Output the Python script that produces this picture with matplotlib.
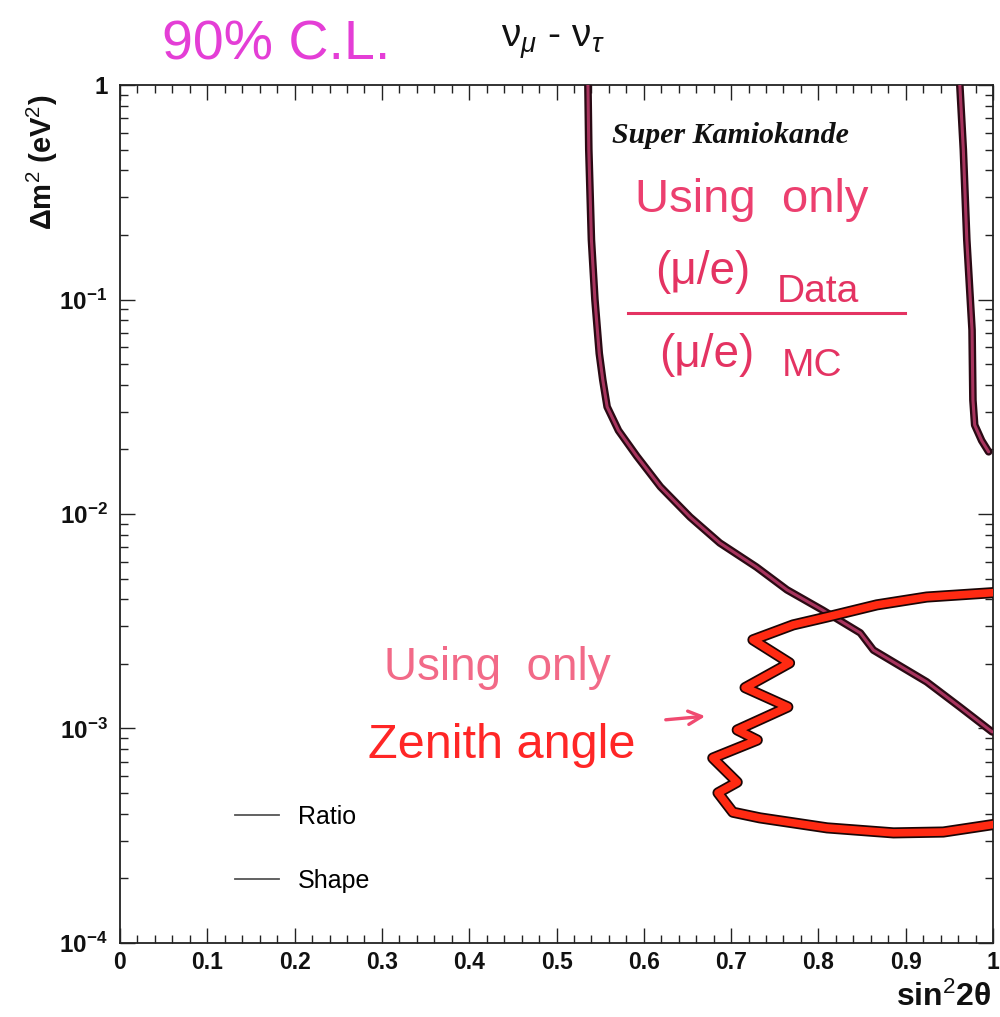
import matplotlib
matplotlib.use('Agg')
from matplotlib import pyplot as plt
from matplotlib.lines import Line2D
from matplotlib.ticker import MultipleLocator, LogLocator, FixedLocator, FixedFormatter, NullFormatter

# Ratio contour, left branch (sin^2 2theta, dm^2 in eV^2)
ratio_left_x = [0.536, 0.537, 0.540, 0.544, 0.549, 0.553, 0.558, 0.571, 0.592, 0.619,
                0.653, 0.687, 0.729, 0.764, 0.805, 0.848, 0.863, 0.886, 0.924, 0.962, 0.999]
ratio_left_y = [1.0, 0.5, 0.19, 0.10, 0.056, 0.0422, 0.0316, 0.0245, 0.0186, 0.0134,
                0.00968, 0.00733, 0.00566, 0.00443, 0.00356, 0.00279, 0.00232, 0.00204,
                0.00165, 0.00126, 0.000964]

# Ratio contour, right branch
ratio_right_x = [0.962, 0.966, 0.970, 0.976, 0.977, 0.979, 0.987, 0.995]
ratio_right_y = [1.0, 0.5, 0.19, 0.072, 0.034, 0.026, 0.022, 0.0195]

# Shape (zenith angle) contour
shape_x = [0.997, 0.924, 0.867, 0.810, 0.771, 0.725, 0.767, 0.716, 0.765, 0.707,
           0.730, 0.679, 0.707, 0.685, 0.702, 0.733, 0.810, 0.886, 0.943, 0.997]
shape_y = [0.00429, 0.00410, 0.00377, 0.00331, 0.00304, 0.00259, 0.00202, 0.00155,
           0.00126, 0.000984, 0.000883, 0.000728, 0.000562, 0.000501, 0.000407,
           0.000383, 0.000344, 0.000326, 0.000329, 0.000355]

x_ticks = [0, 0.1, 0.2, 0.3, 0.4, 0.5, 0.6, 0.7, 0.8, 0.9, 1.0]
x_tick_labels = ['0', '0.1', '0.2', '0.3', '0.4', '0.5', '0.6', '0.7', '0.8', '0.9', '1']
y_ticks = [1e-4, 1e-3, 1e-2, 1e-1, 1]
y_tick_labels = [r'$\mathbf{10^{-4}}$', r'$\mathbf{10^{-3}}$', r'$\mathbf{10^{-2}}$',
                 r'$\mathbf{10^{-1}}$', '1']
legend_labels = ['Ratio', 'Shape']

plt.rcParams['font.family'] = ['Liberation Sans', 'DejaVu Sans']
plt.rcParams['mathtext.fontset'] = 'custom'
plt.rcParams['mathtext.rm'] = 'Liberation Sans'
plt.rcParams['mathtext.it'] = 'Liberation Sans:italic'
plt.rcParams['mathtext.bf'] = 'Liberation Sans:bold'

fig = plt.figure(figsize=(10, 10.17), dpi=100)
ax = fig.add_axes([0.12, 0.0728, 0.873, 0.8436])
ax.set_yscale('log')
ax.set_xlim(0, 1)
ax.set_ylim(1e-4, 1)

# Ratio contour
for xs, ys in [(ratio_left_x, ratio_left_y), (ratio_right_x, ratio_right_y)]:
    ax.plot(xs, ys, color='#2a0a14', lw=5.5, solid_capstyle='round',
            solid_joinstyle='round', zorder=3)
    ax.plot(xs, ys, color='#a8345e', lw=2.2, solid_capstyle='round',
            solid_joinstyle='round', zorder=4)

# Shape contour
ax.plot(shape_x, shape_y, color='#1a0505', lw=8, solid_joinstyle='round', zorder=5)
ax.plot(shape_x, shape_y, color='#ff2a12', lw=5.5, solid_joinstyle='round', zorder=6)

# Axis ticks
ax.xaxis.set_major_locator(FixedLocator(x_ticks))
ax.xaxis.set_major_formatter(FixedFormatter(x_tick_labels))
ax.xaxis.set_minor_locator(MultipleLocator(0.02))
ax.yaxis.set_major_locator(FixedLocator(y_ticks))
ax.yaxis.set_major_formatter(FixedFormatter(y_tick_labels))
ax.yaxis.set_minor_locator(LogLocator(base=10, subs=range(2, 10)))
ax.yaxis.set_minor_formatter(NullFormatter())
ax.tick_params(which='both', direction='in', top=True, right=True, width=1, colors='#222222')
ax.tick_params(which='major', length=11, labelcolor='#111111')
ax.tick_params(axis='x', which='major', labelsize=16.5, pad=6)
ax.tick_params(axis='y', which='major', labelsize=17.5, pad=9)
ax.tick_params(which='minor', length=6)
for lbl in ax.get_xticklabels() + ax.get_yticklabels():
    lbl.set_fontweight('bold')
for sp in ax.spines.values():
    sp.set_linewidth(1.3)
    sp.set_color('#222222')

# Legend
handles = [Line2D([], [], color='#555555', lw=1.3) for _ in legend_labels]
ax.legend(handles, legend_labels, loc='upper left', bbox_to_anchor=(0.132, 0.161),
          frameon=False, fontsize=18, handlelength=1.75, handletextpad=0.75,
          labelspacing=1.6, borderpad=0, borderaxespad=0)

# Axis labels
fig.text(0.042, 0.84, 'Δm$^2$ (eV$^2$)', rotation=90, ha='center', va='center',
         fontsize=21, fontweight='bold', color='#111111')
fig.text(0.944, 0.019, 'sin$^2$2θ', ha='center', va='center', fontsize=23,
         fontweight='bold', color='#111111')

# Title and labels
fig.text(0.553, 0.958, 'ν$_{μ}$ - ν$_{τ}$', ha='center', va='center', fontsize=28,
         color='#111111')
fig.text(0.73, 0.867, 'Super Kamiokande', ha='center', va='center', fontsize=21.5,
         family='Liberation Serif', fontweight='bold', style='italic', color='#111111')

# Handwritten notes
fig.text(0.276, 0.955, '90% C.L.', ha='center', va='center', fontsize=40,
         color='#e43ed6')
fig.text(0.752, 0.803, 'Using  only', ha='center', va='center', fontsize=34,
         color='#ec3f6f')
fig.text(0.703, 0.733, '(μ/e)', ha='center', va='center', fontsize=33, color='#e43362')
fig.text(0.818, 0.713, 'Data', ha='center', va='center', fontsize=28, color='#e43362')
fig.lines.append(Line2D([0.628, 0.905], [0.692, 0.692], color='#e43362', lw=2.2,
                        transform=fig.transFigure))
fig.text(0.707, 0.651, '(μ/e)', ha='center', va='center', fontsize=33, color='#e43362')
fig.text(0.812, 0.640, 'MC', ha='center', va='center', fontsize=28, color='#e43362')

fig.text(0.497, 0.343, 'Using  only', ha='center', va='center', fontsize=33,
         color='#f26a88')
fig.text(0.502, 0.267, 'Zenith angle', ha='center', va='center', fontsize=35,
         color='#ff2626')
ax.annotate('', xy=(0.708, 0.296), xytext=(0.663, 0.292), xycoords='figure fraction',
            textcoords='figure fraction',
            arrowprops=dict(arrowstyle='->', color='#f04a70', lw=2.4, mutation_scale=24))

fig.savefig('out.png', dpi=100)
